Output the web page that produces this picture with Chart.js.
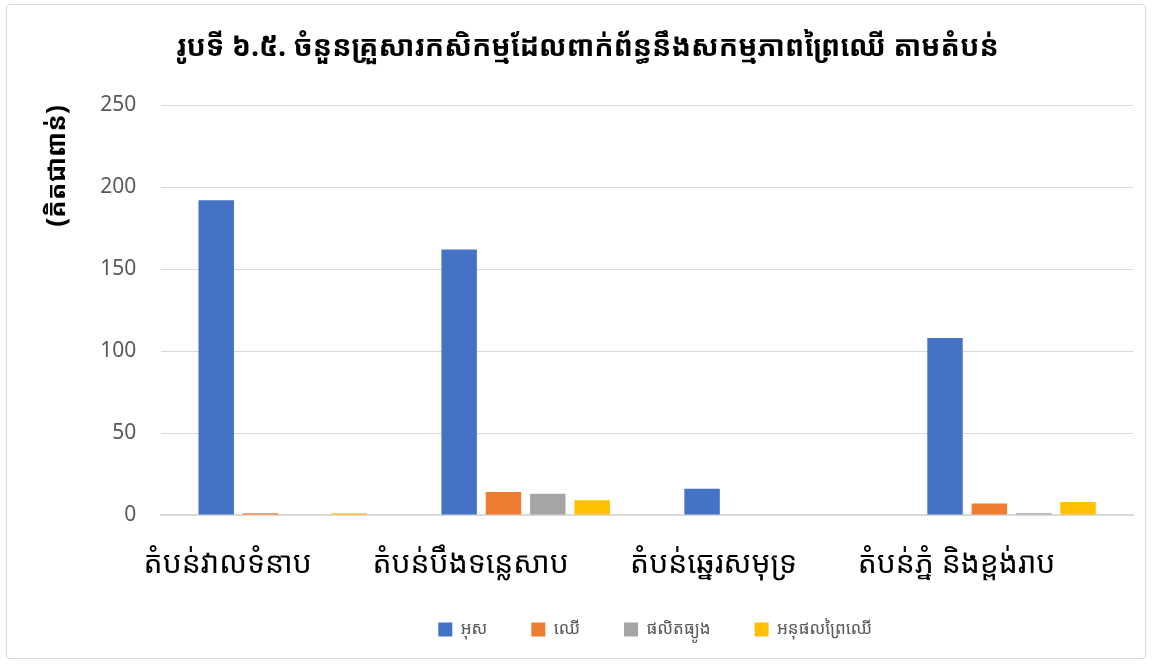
<!DOCTYPE html>
<html>
<head>
<meta charset="utf-8">
<script src="https://cdn.jsdelivr.net/npm/chart.js@4"></script>
<style>
  html, body { margin: 0; padding: 0; background: #fff; }
  #wrap {
    position: absolute; left: 6px; top: 4px;
    width: 1140px; height: 655px;
    border: 1px solid #d9d9d9; border-radius: 4px;
    box-sizing: border-box;
  }
  #chart-box { position: absolute; left: 0; top: 0; width: 1155px; height: 665px; }
</style>
</head>
<body>
<div id="wrap"></div>
<div id="chart-box"><canvas id="chart" width="1155" height="665"></canvas></div>
<script>
const FONT = "'Noto Sans Khmer', 'Khmer OS', 'Khmer OS System', Carlito, Calibri, 'Noto Sans', sans-serif";

const regions = ["តំបន់វាលទំនាប", "តំបន់បឹងទន្លេសាប", "តំបន់ឆ្នេរសមុទ្រ", "តំបន់ភ្នំ និងខ្ពង់រាប"];
const seriesNames = ["អុស", "ឈើ", "ផលិតធ្យូង", "អនុផលព្រៃឈើ"];
const seriesColors = ["#4472c4", "#ed7d31", "#a5a5a5", "#ffc000"];

// thousands of households, per region
const firewood = [192, 162, 16, 108];
const timber = [1, 14, 0, 7];
const charcoal = [0, 13, 0, 1];
const nonTimber = [1, 9, 0, 8];

const yTicks = [0, 50, 100, 150, 200, 250];

const values = [firewood, timber, charcoal, nonTimber];

// Excel centres the legend on the plot area and sits it a bit higher
const legendShift = {
  id: "legendShift",
  afterLayout(chart) {
    const lg = chart.legend;
    const area = chart.chartArea;
    const dx = (area.left + area.right) / 2 + 8 - (lg.left + lg.right) / 2;
    const dy = -36;
    lg.left += dx;
    lg.right += dx;
    lg.top += dy;
    lg.bottom += dy;
  },
};

const ctx = document.getElementById("chart");

new Chart(ctx, {
  type: "bar",
  data: {
    labels: regions,
    datasets: seriesNames.map((name, i) => ({
      label: name,
      data: values[i],
      backgroundColor: seriesColors[i],
      categoryPercentage: 0.73,
      barPercentage: 0.8,
    })),
  },
  plugins: [legendShift],
  options: {
    responsive: false,
    animation: false,
    layout: { padding: { left: 42, right: 22, top: 0, bottom: -19 } },
    plugins: {
      title: {
        display: true,
        text: "រូបទី ៦.៥. ចំនួនគ្រួសារកសិកម្មដែលពាក់ព័ន្ធនឹងសកម្មភាពព្រៃឈើ តាមតំបន់",
        color: "#000",
        font: { family: FONT, size: 28.5, weight: "bold" },
        padding: { top: 31, bottom: 40 },
      },
      legend: {
        position: "bottom",
        labels: {
          color: "#595959",
          font: { family: FONT, size: 17 },
          boxWidth: 14,
          boxHeight: 14,
          padding: 44,
        },
      },
      tooltip: { enabled: false },
    },
    scales: {
      x: {
        grid: { display: false, drawTicks: false },
        border: { color: "#d9d9d9", width: 2 },
        ticks: {
          color: "#000",
          font: { family: FONT, size: 30 },
          padding: 31,
          labelOffset: -55,
        },
      },
      y: {
        min: 0,
        max: 250,
        afterBuildTicks: (axis) => {
          axis.ticks = yTicks.map((v) => ({ value: v }));
        },
        grid: { color: "#d9d9d9", drawTicks: false },
        border: { display: false },
        ticks: {
          color: "#595959",
          font: { family: FONT, size: 21 },
          padding: 25,
        },
        title: {
          display: true,
          text: "(គិតជាពាន់)",
          align: "end",
          color: "#000",
          font: { family: FONT, size: 26, weight: "bold" },
          padding: { top: 0, bottom: 2 },
        },
      },
    },
  },
});
</script>
</body>
</html>
